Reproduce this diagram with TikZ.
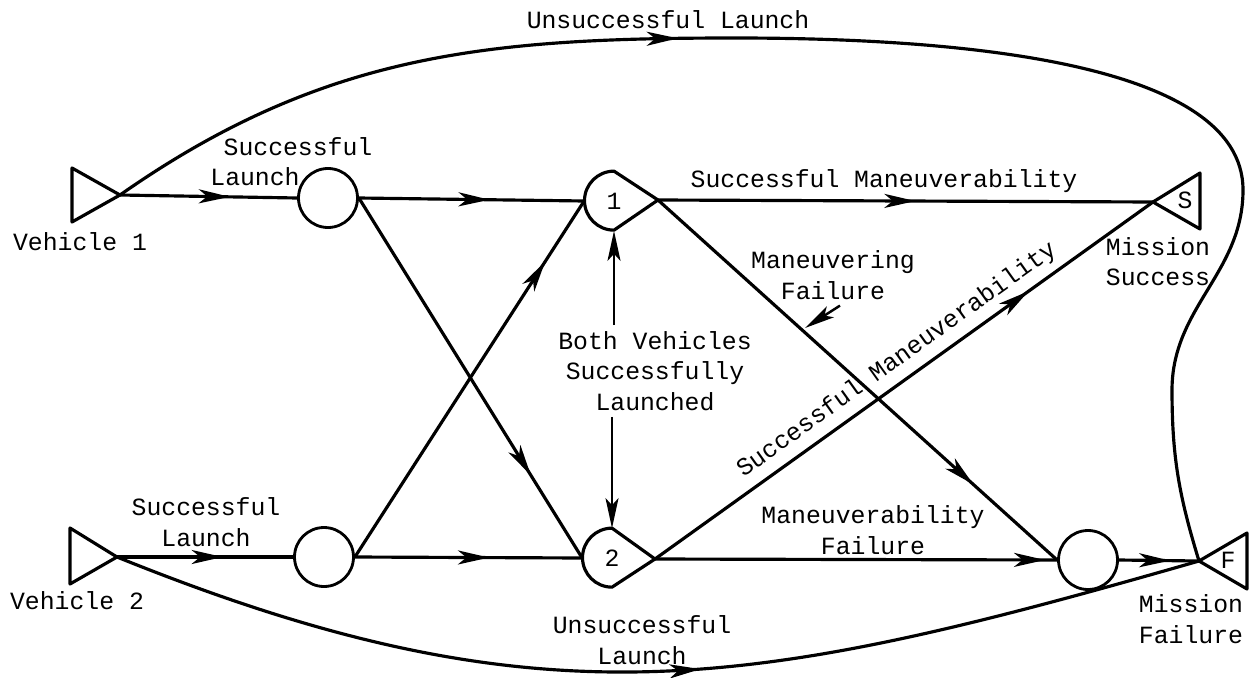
\documentclass[tikz,border=0pt]{standalone}
\usepackage{fontspec}
\setmainfont{Liberation Mono}
\usetikzlibrary{arrows.meta,decorations.markings}

\tikzset{
  line/.style={line width=1.8pt, line join=round},
  midarrow/.style={postaction={decorate},
    decoration={markings, mark=at position #1 with
      {\arrow{Stealth[length=0.62cm,width=0.28cm,inset=0.17cm]}}}},
  circ/.style={circle, draw, line width=1.6pt, minimum size=1.18cm, inner sep=0pt},
  drop/.style={circle, minimum size=1.18cm, inner sep=0pt},
  lbl/.style={align=center, font=\fontsize{14.1pt}{17.4pt}\selectfont},
  pointer/.style={line width=1.4pt, -{Stealth[length=0.6cm,width=0.26cm,inset=0.14cm]}}
}

\begin{document}
\begin{tikzpicture}
   \useasboundingbox (0,0) rectangle (25.06,-13.54);
   % vehicles and mission ends
   \coordinate (v1) at (2.40,-3.90);
   \coordinate (v2) at (2.34,-11.14);
   \coordinate (sa) at (23.06,-4.04);
   \coordinate (fa) at (23.98,-11.22);
   \draw[line] (v1) -- ++(-0.96,0.54) -- ++(0,-1.08) -- cycle;
   \draw[line] (v2) -- ++(-0.94,0.58) -- ++(0,-1.12) -- cycle;
   \draw[line] (sa) -- ++(0.94,0.58) -- ++(0,-1.12) -- cycle;
   \draw[line] (fa) -- ++(0.96,0.56) -- ++(0,-1.12) -- cycle;
   \node[lbl] (sl) at (23.70,-4.00) {S};
   \node[lbl] (fl) at (24.56,-11.20) {F};
   % events
   \node[circ] (a1) at (6.56,-3.96) {};
   \node[circ] (b1) at (6.48,-11.14) {};
   \node[circ] (fc) at (21.76,-11.20) {};
   \node[drop,lbl] (n1) at (12.28,-4.02) {1};
   \node[drop,lbl] (n2) at (12.24,-11.16) {2};
   \coordinate (n1t) at (13.16,-4.00);
   \coordinate (n2t) at (13.10,-11.18);
   \draw[line] (n1.north) arc[start angle=90, end angle=270, radius=0.59] -- (n1t) -- cycle;
   \draw[line] (n2.north) arc[start angle=90, end angle=270, radius=0.59] -- (n2t) -- cycle;
   % branches
   \draw[line, midarrow=0.62] (v1) -- (a1.west);
   \draw[line, midarrow=0.6]  (v2) -- (b1.west);
   \draw[line, midarrow=0.58] (a1.east) -- (n1.west);
   \draw[line, midarrow=0.77] (a1.east) -- (n2.west);
   \draw[line, midarrow=0.83] (b1.east) -- (n1.west);
   \draw[line, midarrow=0.59] (b1.east) -- (n2.west);
   \draw[line, midarrow=0.52] (n1t) -- (sa);
   \draw[line, midarrow=0.79] (n1t) -- (fc.west);
   \draw[line, midarrow=0.75] (n2t) -- node[lbl, sloped, above=1pt, pos=0.51] (sm) {Successful Maneuverability} (sa);
   \draw[line, midarrow=0.97] (n2t) -- (fc.west);
   \draw[line, midarrow=0.64] (fc.east) -- (fa);
   % unsuccessful launches
   \coordinate (ut) at (14.70,-0.76);
   \coordinate (ur) at (24.86,-3.80);
   \coordinate (ul) at (23.44,-7.80);
   \draw[line, midarrow=11.8cm] (v1) to[out=35,in=180] (ut)
        .. controls (19.00,-0.76) and (24.86,-1.20) .. (ur)
        to[out=-90,in=90] (ul)
        to[out=-90,in=107] (fa);
   \draw[line, midarrow=0.54] (v2) to[out=-22,in=196,looseness=1.09] (fa);
   % labels
   \node[lbl] (t1) at (5.96,-2.94) {Successful};
   \node[lbl] (t2) at (5.10,-3.54) {Launch};
   \node[lbl] (t3) at (1.60,-4.84) {Vehicle 1};
   \node[lbl] (t4) at (4.12,-10.14) {Successful};
   \node[lbl] (t5) at (4.12,-10.76) {Launch};
   \node[lbl] (t6) at (1.54,-12.02) {Vehicle 2};
   \node[lbl] (ul1) at (13.36,-0.40) {Unsuccessful Launch};
   \node[lbl] (sm1) at (17.68,-3.62) {Successful Maneuverability};
   \node[lbl] (mf) at (16.66,-5.50) {Maneuvering\\Failure};
   \node[lbl] (bv) at (13.10,-7.42) {Both Vehicles\\Successfully\\Launched};
   \node[lbl] (mb) at (17.46,-10.60) {Maneuverability\\Failure};
   \node[lbl] (ms) at (23.16,-5.23) {Mission\\Success};
   \node[lbl] (mfl) at (23.82,-12.38) {Mission\\Failure};
   \node[lbl] (ul2) at (12.84,-12.80) {Unsuccessful\\Launch};
   % pointers
   \coordinate (mfp) at (16.10,-6.56);
   \draw[pointer] ([xshift=1.4mm]mf.south) -- (mfp);
   \draw[pointer] (n1.south |- bv.north) -- (n1.south);
   \draw[pointer] (n2.north |- bv.south) -- (n2.north);
\end{tikzpicture}
\end{document}
